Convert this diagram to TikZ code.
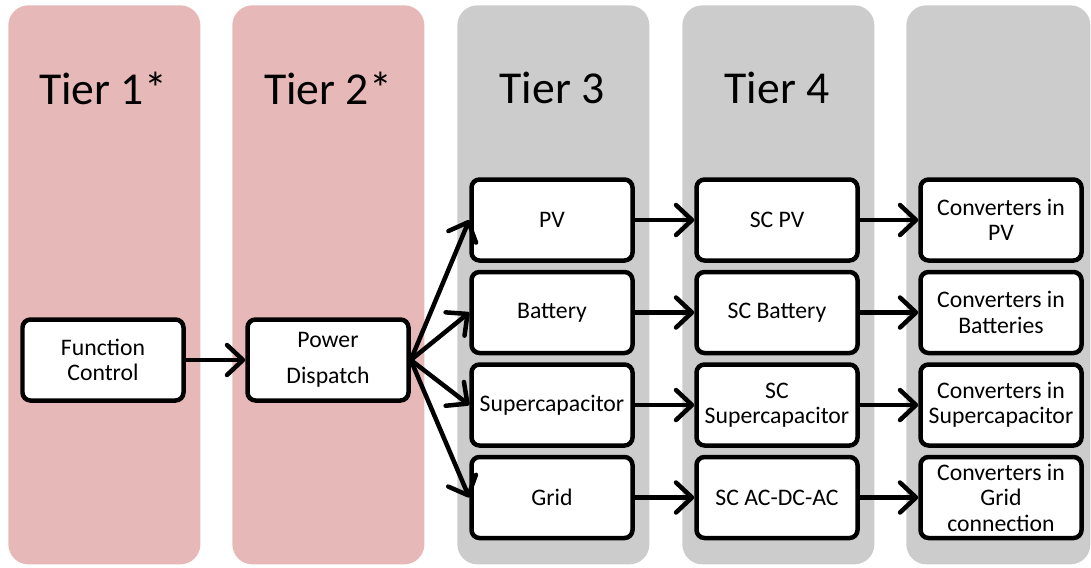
\documentclass[tikz,border=0pt]{standalone}
\usepackage{fontspec}
\setmainfont{Carlito}
\usetikzlibrary{positioning,arrows.meta}
\definecolor{tierpink}{HTML}{E6B9B8}
\definecolor{tiergray}{HTML}{CCCCCC}
\tikzset{
  tier/.style={fill=#1, rounded corners=0.4cm, minimum width=3.84cm, minimum height=11.18cm,
               anchor=north west, inner sep=0pt},
  tiertitle/.style={font=\fontsize{26}{30}\selectfont},
  unit/.style={draw=black, fill=white, line width=0.09cm, rounded corners=0.16cm,
               minimum width=3.22cm, minimum height=1.62cm, align=center, inner sep=1pt,
               font=\fontsize{13.5}{14.5}\selectfont},
  flow/.style={-{Straight Barb[length=0.32cm,width=0.6cm,round]}, line width=0.09cm},
}

\begin{document}
\begin{tikzpicture}
  \useasboundingbox (0,0) rectangle (21.82,-11.34);
  % tier panels
  \node[tier=tierpink] (p1) at (0.16,-0.1) {};
  \node[tier=tierpink] (p2) at (4.64,-0.1) {};
  \node[tier=tiergray] (p3) at (9.14,-0.1) {};
  \node[tier=tiergray] (p4) at (13.64,-0.1) {};
  \node[tier=tiergray, minimum width=3.68cm] (p5) at (18.12,-0.1) {};
  \node[tiertitle] (t1) at (2.06,-1.76) {Tier 1*};
  \node[tiertitle] (t2) at (6.56,-1.76) {Tier 2*};
  \node[tiertitle] (t3) at (11.04,-1.76) {Tier 3};
  \node[tiertitle] (t4) at (15.54,-1.76) {Tier 4};
  % tier 1 and 2
  \node[unit] (fc) at (2.06,-7.2) {Function\\Control};
  \node[unit] (pd) at (6.56,-7.2) {Power\\[0.2cm]Dispatch};
  % tier 3
  \node[unit] (pv) at (11.04,-4.4) {PV};
  \node[unit, below=0.14cm of pv] (bat) {Battery};
  \node[unit, below=0.14cm of bat] (sup) {Supercapacitor};
  \node[unit, below=0.14cm of sup] (grid) {Grid};
  % tier 4
  \node[unit, right=1.19cm of pv] (scpv) {SC PV};
  \node[unit, right=1.19cm of bat] (scbat) {SC Battery};
  \node[unit, right=1.19cm of sup] (scsup) {SC\\Supercapacitor};
  \node[unit, right=1.19cm of grid] (scgrid) {SC AC-DC-AC};
  % tier 5
  \node[unit, right=1.17cm of scpv] (cpv) {Converters in\\PV};
  \node[unit, right=1.17cm of scbat] (cbat) {Converters in\\Batteries};
  \node[unit, right=1.17cm of scsup] (csup) {Converters in\\Supercapacitor};
  \node[unit, right=1.17cm of scgrid] (cgrid) {Converters in\\Grid\\connection};
  \draw[flow] (fc.east) -- (pd.west);
  \foreach \b in {pv,bat,sup,grid} \draw[flow] (pd.east) -- (\b.west);
  \foreach \a/\b in {pv/scpv,bat/scbat,sup/scsup,grid/scgrid,scpv/cpv,scbat/cbat,scsup/csup,scgrid/cgrid}
    \draw[flow] (\a.east) -- (\b.west);
\end{tikzpicture}
\end{document}
